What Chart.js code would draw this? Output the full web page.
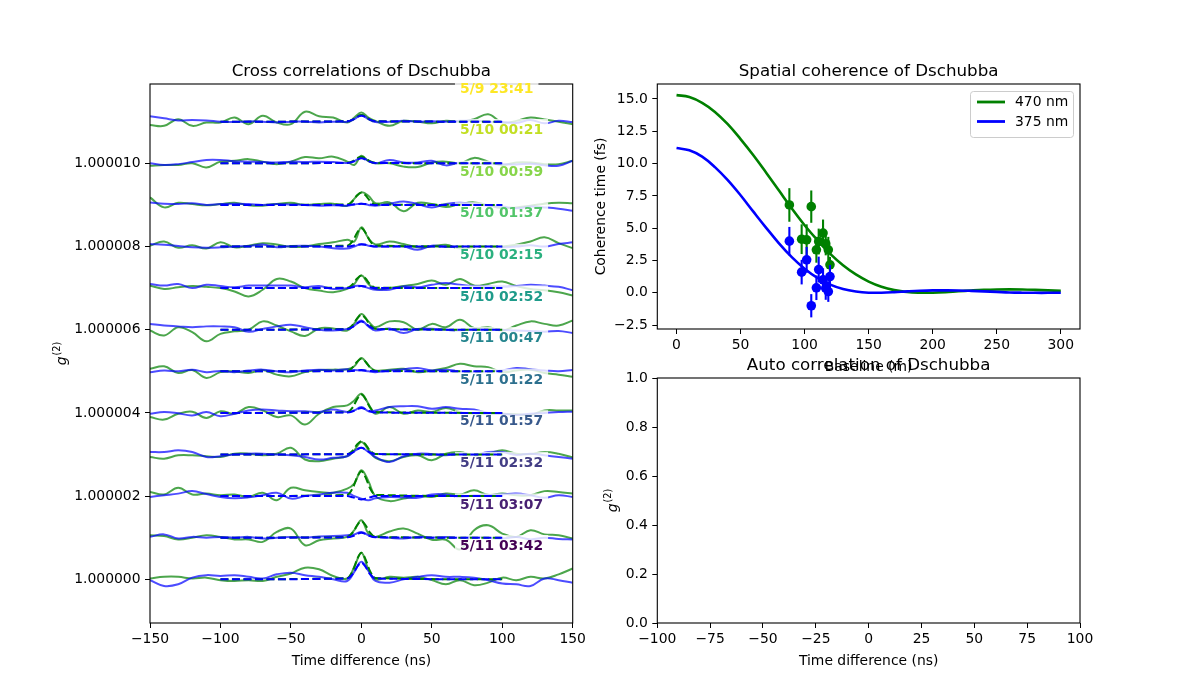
<!DOCTYPE html>
<html>
<head>
<meta charset="utf-8">
<script src="https://cdn.jsdelivr.net/npm/chart.js@4"></script>
<style>
  html, body { margin: 0; padding: 0; background: #fff; }
  #wrap { position: relative; width: 1200px; height: 700px; }
  canvas { position: absolute; left: 0; top: 0; }
</style>
</head>
<body>
<div id="wrap">
  <canvas id="cross" width="1200" height="700"></canvas>
  <canvas id="spatial" width="1200" height="700"></canvas>
  <canvas id="auto" width="1200" height="700"></canvas>
</div>
<script>
// ---------- cross correlations (left) ----------
// time axis of the measured traces (ns)
const timeGrid = [-150, -140, -130, -120, -110, -100, -90, -80, -70, -60, -50, -40, -30, -20, -10, -5, 0, 5, 10,
  20, 30, 40, 50, 60, 70, 80, 90, 100, 110, 120, 130, 140, 150];
// time axis of the fitted curves (ns)
const fitGrid = [-100, -10, -6, -3, 0, 3, 6, 10, 100];

// one entry per trace, bottom trace first; deviations from each trace's baseline in units of 1e-7
const dates = ["5/11 03:42", "5/11 03:07", "5/11 02:32", "5/11 01:57", "5/11 01:22", "5/11 00:47",
  "5/10 02:52", "5/10 02:15", "5/10 01:37", "5/10 00:59", "5/10 00:21", "5/9 23:41"];

const green470 = [
  [0.2,0.6,0.6,0.2,0.4,-0.2,-0.4,-0.2,-0.4,0.6,1.4,2.8,2.4,0.8,0.2,3.0,6.4,2.4,0,0.6,0.4,0.6,-0.2,-1.2,-0.2,-1.4,-0.8,0.4,-0.2,0.6,0.2,1.2,2.6],
  [0.6,0.4,-0.4,0,0.6,0.2,-0.4,-0.4,-1.0,1.4,2.2,-1.8,-0.6,-0.2,0.2,1.8,4.2,1.0,0.2,1.5,2.2,1.0,-0.5,-0.5,-2.8,1.8,3.0,1.0,0.2,1.8,0.8,0.6,-0.2],
  [1.0,0.4,2.0,0.4,0.6,0.2,0.4,-0.2,0.8,-1.0,2.0,1.4,1.0,0.8,1.8,3.0,6.2,3.6,0,-1.2,-0.6,0,-0.2,0.6,0.4,1.4,0.3,0.6,0.2,0.2,1.2,1.0,0.6],
  [-0.6,-1.0,-0.2,-0.2,-0.4,-0.6,0.2,0.2,-0.2,0.2,1.6,-1.2,-1.6,-1.0,-0.4,1.0,3.0,1.2,-0.8,-1.6,-0.6,-0.2,-1.4,0.2,0.6,-0.2,0.2,1.0,0.2,0.1,0.6,0.2,-0.7],
  [-1.0,-1.6,-0.2,0.3,-1.2,0.4,-0.2,1.4,0.6,-1.0,-0.6,-2.8,-0.2,1.4,1.8,3.0,4.6,2.2,-0.2,1.4,-0.2,0.6,0.2,1.2,0.2,-0.2,-0.2,-0.2,-0.3,-0.5,0.6,0.6,0.6],
  [0.6,1.2,-0.4,0.3,-1.6,-0.2,0,-0.4,0.3,-0.8,-1.2,-0.2,0.3,0.4,0.5,1.2,3.2,1.4,0.2,0.4,0.6,-0.2,0.2,0.8,1.8,1.2,1.0,-0.2,0.2,0.4,-0.4,-0.8,-1.3],
  [-0.2,-1.4,0.6,-0.6,-2.8,-1.0,-0.4,0,2.0,1.0,-0.4,-1.5,0.3,0.3,-0.2,1.5,3.8,2.0,0.6,2.0,1.8,0,1.4,0.6,2.4,0.4,0.6,-0.2,1.0,2.0,1.4,1.0,2.2],
  [0.6,-0.2,0.2,0.5,0.3,0,-0.8,-2.0,-0.4,2.2,1.6,0,-0.6,-1.0,-0.2,1.0,3.0,1.0,-0.2,0,0.5,1.0,1.8,0.8,2.2,0.6,1.0,1.6,0.5,-0.2,-0.5,-1.0,-1.8],
  [0.2,1.2,-0.3,0.3,-0.5,1.0,-0.2,0.2,0.8,0.5,-0.1,0,0.6,1.0,1.6,1.2,4.6,2.0,0.5,1.2,0.6,-0.2,0,0.4,-0.5,-0.2,0.1,0,0.4,1.2,2.2,0.8,-0.4],
  [1.8,-0.6,0.5,0.2,-0.1,0.2,0.5,-0.1,-0.2,0.2,0.5,0,0.2,0.3,-0.2,1.5,3.0,2.2,0.4,0.6,-1.5,0.5,0.2,-0.5,0.2,0.6,-0.1,-0.8,-0.6,-0.2,0.3,0.5,0.4],
  [-0.6,-0.4,-0.4,0,-1.0,0.4,0.6,1.0,0.4,-0.2,0.4,1.5,1.2,1.6,0.4,-0.4,1.8,0.5,0,0,-0.8,-0.9,0.2,0.4,0,1.3,0.4,-0.4,0.2,0.2,-0.2,-0.2,0.6],
  [-0.8,-1.0,0.6,-1.0,-0.2,-0.2,1.0,-0.6,1.4,-0.2,-0.6,2.4,1.3,1.0,-0.2,1.0,2.2,1.0,0.2,-1.0,0.2,0,-0.4,0.2,0,0.6,1.8,-0.2,0.2,1.0,0.5,0,-0.6]
];

const blue375 = [
  [-0.2,-1.6,-1.2,0.4,1.0,0.8,1.0,0.6,0.2,1.2,1.6,1.0,0.6,0,-0.4,1.8,4.2,2.0,-0.4,-0.8,0,0.6,1.0,0.6,0.6,0.4,-0.2,-1.0,-1.2,-1.6,0.2,-0.2,-0.8],
  [0.2,0.8,-0.2,0.2,0,0.2,0,0.2,-0.2,0,0.2,0,0.3,0.4,0.6,0.8,1.4,0.6,0.2,0,-0.2,0.2,0,0.2,0,0.2,0,-0.2,0.2,-0.4,0,-0.3,-0.4],
  [-0.2,0.2,0.6,1.2,0.5,-0.2,-0.5,-0.3,0.2,0.8,-0.6,0,0.4,0.8,0.8,0,-0.6,-1.0,-0.5,-0.2,-0.3,-0.4,0.4,0.4,-0.2,0.2,0.2,0.4,0.6,0.2,-0.4,0.2,-0.2],
  [0.6,0.6,1.0,0.6,-0.6,-0.4,0,0.2,0.2,0,-0.2,-0.6,-1.2,-0.8,-0.4,0.8,1.6,0.6,-0.6,-1.8,-0.4,0.2,0.1,-0.2,0.2,-0.1,0.6,0.6,-0.1,0.2,-0.2,-0.6,-1.0],
  [-0.2,0.2,-0.1,-0.6,0.2,-0.8,-0.2,0.6,0.8,0.6,0.4,0.4,0.2,0.8,0.2,0.6,1.4,0.4,0.6,1.4,1.6,1.6,1.0,1.4,1.0,0.8,0,-0.2,-0.5,-0.2,0,0.2,0.3],
  [-0.2,0.2,0,0.4,-0.2,0.1,-0.2,0.2,0.4,0,-0.2,0.2,0.4,0.2,0.5,0.3,0.2,0,-0.2,0.2,0.5,0.8,0.2,0.4,0,-0.2,0,0.2,0.8,0.5,0.2,0,0.3],
  [1.4,1.0,0.8,0.6,0.8,0.8,0.6,-0.5,0.2,0.8,1.2,0.6,0,-0.2,0.2,1.0,2.2,0.8,-0.2,0.3,-0.8,0.2,0.2,0,-0.2,0.2,0,0,-0.2,-0.3,-0.5,-0.3,-0.8],
  [1.0,0.6,1.0,0,0.8,0.5,0.2,0.6,0.6,0.6,0.6,0.2,0.5,-0.2,0,0.5,0.5,0,-0.4,-0.4,0.4,0.2,0.8,1.2,0.8,0.5,0.4,0.3,0.5,0.8,0.6,0.3,-0.5],
  [0.6,0.4,0.1,-0.2,-0.3,-0.2,0,0.1,0.5,-0.2,0.1,0.2,0,-0.4,-0.5,0,0.6,0.2,0,0,0,-0.8,0.2,-0.1,0,0.2,0,-0.2,0,0.3,0,0.6,1.0],
  [0.6,0.3,0.2,0.4,0,0.2,0.3,0.2,0,0.2,0.1,0,-0.2,-0.1,-0.2,0.1,0.3,0,-0.2,0.3,0.8,0.2,-0.6,0.2,0.5,0.2,-0.2,-0.4,-0.8,-0.4,-0.6,-0.9,-1.4],
  [0,-0.4,-0.2,0.3,0.8,0.8,0.5,0.4,0.3,0.2,0.4,0.3,0.4,0.3,0.1,0.5,1.4,0.6,0,0.8,0.2,0.2,0.6,-0.5,0.2,-0.2,-0.1,-0.2,-0.3,-0.1,-0.5,-0.6,0.6],
  [1.3,0.8,0.3,0.4,0.3,0,-0.1,0.1,0,-0.2,0,0,-0.2,0,0,0.6,1.6,0.6,-0.1,0,0.2,0,0.1,0,0.2,0.3,0,-0.1,-0.3,0.4,-0.4,0.2,-0.1]
];

const greenFit = [
  [0,0.3,2.1,4.8,6.4,4.8,2.1,0.3,0],
  [0,0.2,1.3,3.0,4.0,3.0,1.3,0.2,0],
  [0,0.3,2.0,4.5,6.0,4.5,2.0,0.3,0],
  [0,0.1,1.0,2.4,3.2,2.4,1.0,0.1,0],
  [0,0.2,1.4,3.3,4.4,3.3,1.4,0.2,0],
  [0,0.1,1.0,2.3,3.0,2.3,1.0,0.1,0],
  [0,0.2,1.2,2.7,3.6,2.7,1.2,0.2,0],
  [0,0.1,1.0,2.3,3.0,2.3,1.0,0.1,0],
  [0,0.2,1.4,3.3,4.4,3.3,1.4,0.2,0],
  [0,0.1,1.0,2.3,3.0,2.3,1.0,0.1,0],
  [0,0.1,0.5,1.2,1.6,1.2,0.5,0.1,0],
  [0,0.1,0.5,1.2,1.6,1.2,0.5,0.1,0]
];

const blueFit = [
  [0,0.2,1.3,3.0,4.0,3.0,1.3,0.2,0],
  [0,0.1,0.4,0.9,1.2,0.9,0.4,0.1,0],
  [0,0,-0.3,-0.6,-0.8,-0.6,-0.3,0,0],
  [0,0.1,0.5,1.2,1.6,1.2,0.5,0.1,0],
  [0,0.1,0.4,0.9,1.2,0.9,0.4,0.1,0],
  [0,0,0.1,0.2,0.3,0.2,0.1,0,0],
  [0,0.1,0.7,1.5,2.0,1.5,0.7,0.1,0],
  [0,0,0.2,0.4,0.5,0.4,0.2,0,0],
  [0,0,0.2,0.4,0.5,0.4,0.2,0,0],
  [0,0,0.1,0.2,0.3,0.2,0.1,0,0],
  [0,0.1,0.4,0.9,1.2,0.9,0.4,0.1,0],
  [0,0.1,0.5,1.1,1.4,1.1,0.5,0.1,0]
];

const crossTicksX = [-150, -100, -50, 0, 50, 100, 150];
const crossTicksY = [1.000000, 1.000002, 1.000004, 1.000006, 1.000008, 1.000010];

// ---------- spatial coherence (top right) ----------
const baselineGrid = [0,10,20,30,40,50,60,70,80,90,100,110,120,130,140,150,160,170,180,190,200,
  210,220,230,240,250,260,270,280,290,300];
const model470 = [15.30,15.15,14.70,14.00,13.05,11.90,10.65,9.30,7.91,6.52,5.23,4.07,3.01,2.13,1.42,0.87,
  0.47,0.21,0.06,0.01,0.01,0.05,0.12,0.18,0.23,0.26,0.27,0.26,0.23,0.19,0.15];
const model375 = [11.20,11.03,10.54,9.73,8.72,7.55,6.28,5.03,3.83,2.76,1.86,1.15,0.63,0.29,0.10,0.01,
  0.01,0.05,0.11,0.16,0.19,0.19,0.18,0.15,0.11,0.07,0.03,0.01,0.00,0.00,0.01];
const obsBaseline = [88.1, 97.7, 101.6, 105.2, 109.2, 111.0, 114.4, 116.5, 118.5, 119.8];
const obs470 = [6.80, 4.15, 4.10, 6.67, 3.33, 3.97, 4.62, 3.80, 3.33, 2.17];
const err470 = [1.30, 1.15, 1.20, 1.25, 1.00, 1.00, 1.05, 0.90, 1.00, 0.60];
const obs375 = [4.00, 1.60, 2.55, -1.00, 0.39, 1.80, 1.00, 0.36, 0.10, 1.26];
const err375 = [1.10, 0.95, 1.00, 0.90, 0.95, 1.00, 0.90, 0.90, 0.80, 0.90];
const spatialTicksX = [0, 50, 100, 150, 200, 250, 300];
const spatialTicksY = [-2.5, 0, 2.5, 5, 7.5, 10, 12.5, 15];

// ---------- auto correlation (bottom right, empty) ----------
const autoTicksX = [-100, -75, -50, -25, 0, 25, 50, 75, 100];
const autoTicksY = [0, 0.2, 0.4, 0.6, 0.8, 1.0];

const viridis12 = ['#440154', '#482173', '#433e85', '#38598c', '#2d708e', '#25858e',
  '#1e9b8a', '#2ab07f', '#52c569', '#86d549', '#c2df23', '#fde725'];

Chart.defaults.font.family = "'DejaVu Sans', sans-serif";
Chart.defaults.font.size = 13.9;
Chart.defaults.color = '#000';
Chart.defaults.animation = false;

const FONT = "'DejaVu Sans', sans-serif";
const minus = s => String(s).replace('-', '\u2212');

function axis(min, max, tickVals, fmt, size, horizontal) {
  return {
    type: 'linear', min: min, max: max,
    grid: { display: true, drawOnChartArea: false, drawTicks: true, tickLength: 5, color: '#000', lineWidth: 1 },
    border: { display: false },
    ticks: { color: '#000', font: { size: 13.9 }, padding: horizontal ? 3 : 4.5, maxRotation: 0, autoSkip: false, callback: fmt },
    afterBuildTicks: s => { s.ticks = tickVals.map(v => ({ value: v })); },
    afterFit: s => {
      if (horizontal) s.height = size; else s.width = size;
      s.paddingLeft = 0; s.paddingRight = 0; s.paddingTop = 0; s.paddingBottom = 0;
    }
  };
}

function frame(chart) {
  const { ctx, chartArea: a } = chart;
  ctx.save();
  ctx.strokeStyle = '#000';
  ctx.lineWidth = 1.1;
  ctx.strokeRect(a.left, a.top, a.right - a.left, a.bottom - a.top);
  ctx.restore();
}

function titles(chart, title, xlabel) {
  const { ctx, chartArea: a } = chart;
  const cx = (a.left + a.right) / 2;
  ctx.save();
  ctx.fillStyle = '#000';
  ctx.textAlign = 'center';
  ctx.textBaseline = 'alphabetic';
  ctx.font = '16.7px ' + FONT;
  ctx.fillText(title, cx, a.top - 8.3);
  ctx.font = '13.9px ' + FONT;
  ctx.fillText(xlabel, cx, a.bottom + 41.5);
  ctx.restore();
}

function g2Label(ctx, x, cy) {
  ctx.save();
  ctx.translate(x, cy);
  ctx.rotate(-Math.PI / 2);
  ctx.fillStyle = '#000';
  ctx.textBaseline = 'alphabetic';
  ctx.textAlign = 'left';
  ctx.font = 'italic 13.9px ' + FONT;
  const w1 = ctx.measureText('g').width;
  ctx.font = '9.7px ' + FONT;
  const w2 = ctx.measureText('(2)').width;
  const start = -(w1 + w2 + 1) / 2;
  ctx.font = 'italic 13.9px ' + FONT;
  ctx.fillText('g', start, 0);
  ctx.font = '9.7px ' + FONT;
  ctx.fillText('(2)', start + w1 + 1, -6);
  ctx.restore();
}

// ---------- build the left chart ----------
function pts(xs, devs, k) {
  return xs.map((x, i) => ({ x: x, y: 1 + k * 1e-6 + devs[i] * 1e-7 }));
}
function trace(data, color, dash, fit) {
  const ds = { data: data, borderColor: color, borderWidth: 2, pointRadius: 0, fill: false, borderDash: dash, isFit: fit };
  if (fit) ds.cubicInterpolationMode = 'monotone'; else ds.tension = 0.4;
  return ds;
}

const paintOrder = [];
for (let k = 0; k < dates.length; k++) {
  paintOrder.push(trace(pts(timeGrid, green470[k], k), 'rgba(0,128,0,0.7)', [], false));
  paintOrder.push(trace(pts(timeGrid, blue375[k], k), 'rgba(0,0,255,0.7)', [], false));
}
for (let k = 0; k < dates.length; k++) {
  paintOrder.push(trace(pts(fitGrid, greenFit[k], k), '#008000', [8, 3.5], true));
  paintOrder.push(trace(pts(fitGrid, blueFit[k], k), '#0000ff', [8, 3.5], true));
}
// Chart.js paints the last dataset first
const crossDatasets = paintOrder.slice().reverse();

const crossDecor = {
  id: 'crossDecor',
  beforeDatasetsDraw(chart) { chart.$labelsDone = false; },
  beforeDatasetDraw(chart, args) {
    const ds = chart.data.datasets[args.index];
    if (!ds.isFit || chart.$labelsDone) return;
    chart.$labelsDone = true;
    frame(chart);
    const { ctx, scales: { x, y } } = chart;
    ctx.save();
    ctx.font = 'bold 13.9px ' + FONT;
    ctx.textBaseline = 'middle';
    ctx.textAlign = 'left';
    dates.forEach((d, k) => {
      const px = x.getPixelForValue(70);
      const py = y.getPixelForValue(1 + (k + 0.8) * 1e-6);
      const w = ctx.measureText(d).width;
      ctx.fillStyle = 'rgba(255,255,255,0.8)';
      ctx.fillRect(px - 5, py - 11, w + 10, 21);
      ctx.fillStyle = viridis12[k];
      ctx.fillText(d, px, py + 0.5);
    });
    ctx.restore();
  },
  afterDraw(chart) {
    const a = chart.chartArea;
    titles(chart, 'Cross correlations of Dschubba', 'Time difference (ns)');
    g2Label(chart.ctx, 66, (a.top + a.bottom) / 2);
  }
};

new Chart(document.getElementById('cross'), {
  type: 'line',
  data: { datasets: crossDatasets },
  options: {
    responsive: false, devicePixelRatio: 1,
    layout: { padding: { left: 50, right: 627.3, top: 84, bottom: 37 } },
    scales: {
      x: axis(-150, 150, crossTicksX, v => minus(v), 40, true),
      y: axis(1 - 1.05e-6, 1 + 11.906e-6, crossTicksY, v => Number(v).toFixed(6), 100, false)
    },
    plugins: { legend: { display: false }, tooltip: { enabled: false } }
  },
  plugins: [crossDecor]
});

// ---------- build the top-right chart ----------
const xy = (xs, ys) => xs.map((x, i) => ({ x: x, y: ys[i] }));

const spatialDecor = {
  id: 'spatialDecor',
  afterDatasetDraw(chart, args) {
    const ds = chart.data.datasets[args.index];
    if (!ds.errors) return;
    const { ctx, scales: { x, y } } = chart;
    ctx.save();
    ctx.strokeStyle = ds.pointBackgroundColor;
    ctx.lineWidth = 2.1;
    ds.data.forEach((p, i) => {
      const px = x.getPixelForValue(p.x);
      ctx.beginPath();
      ctx.moveTo(px, y.getPixelForValue(p.y - ds.errors[i]));
      ctx.lineTo(px, y.getPixelForValue(p.y + ds.errors[i]));
      ctx.stroke();
    });
    ctx.restore();
  },
  afterDraw(chart) {
    const { ctx, chartArea: a } = chart;
    frame(chart);
    titles(chart, 'Spatial coherence of Dschubba', 'Baseline (m)');
    ctx.save();
    ctx.translate(605, (a.top + a.bottom) / 2);
    ctx.rotate(-Math.PI / 2);
    ctx.font = '13.9px ' + FONT;
    ctx.fillStyle = '#000';
    ctx.textAlign = 'center';
    ctx.textBaseline = 'alphabetic';
    ctx.fillText('Coherence time (fs)', 0, 0);
    ctx.restore();
    // legend, upper right
    const bw = 103, bh = 46;
    const bx = a.right - 7 - bw, by = a.top + 7;
    ctx.save();
    ctx.beginPath();
    ctx.roundRect(bx + 0.5, by + 0.5, bw, bh, 3);
    ctx.fillStyle = 'rgba(255,255,255,0.8)';
    ctx.fill();
    ctx.strokeStyle = '#cccccc';
    ctx.lineWidth = 1;
    ctx.stroke();
    const entries = [['470 nm', '#008000'], ['375 nm', '#0000ff']];
    ctx.font = '13.9px ' + FONT;
    ctx.textBaseline = 'middle';
    ctx.textAlign = 'left';
    entries.forEach((e, i) => {
      const ly = by + 11 + i * 19.5;
      ctx.strokeStyle = e[1];
      ctx.lineWidth = 2.8;
      ctx.beginPath();
      ctx.moveTo(bx + 7, ly);
      ctx.lineTo(bx + 35, ly);
      ctx.stroke();
      ctx.fillStyle = '#000';
      ctx.fillText(e[0], bx + 45, ly + 0.5);
    });
    ctx.restore();
  }
};

function curve(data, color) {
  return { data: data, borderColor: color, borderWidth: 2.6, pointRadius: 0, fill: false, tension: 0.4 };
}
function points(data, color, errs) {
  return {
    data: data, showLine: false, borderWidth: 0, pointRadius: 4.8, pointBorderWidth: 0,
    pointBackgroundColor: color, borderColor: color, errors: errs
  };
}

new Chart(document.getElementById('spatial'), {
  type: 'line',
  data: {
    datasets: [
      points(xy(obsBaseline, obs375), '#0000ff', err375),
      points(xy(obsBaseline, obs470), '#008000', err470),
      curve(xy(baselineGrid, model375), '#0000ff'),
      curve(xy(baselineGrid, model470), '#008000')
    ]
  },
  options: {
    responsive: false, devicePixelRatio: 1,
    layout: { padding: { left: 597.3, right: 120, top: 84, bottom: 341 } },
    scales: {
      x: axis(-15, 315, spatialTicksX, v => minus(v), 30, true),
      y: axis(-2.8, 16.16, spatialTicksY, v => minus(Number(v).toFixed(1)), 60, false)
    },
    plugins: { legend: { display: false }, tooltip: { enabled: false } }
  },
  plugins: [spatialDecor]
});

// ---------- build the bottom-right chart ----------
const autoDecor = {
  id: 'autoDecor',
  afterDraw(chart) {
    const a = chart.chartArea;
    frame(chart);
    titles(chart, 'Auto correlation of Dschubba', 'Time difference (ns)');
    g2Label(chart.ctx, 617, (a.top + a.bottom) / 2);
  }
};

new Chart(document.getElementById('auto'), {
  type: 'scatter',
  data: { datasets: [] },
  options: {
    responsive: false, devicePixelRatio: 1,
    layout: { padding: { left: 597.3, right: 120, top: 378, bottom: 37 } },
    scales: {
      x: axis(-100, 100, autoTicksX, v => minus(v), 40, true),
      y: axis(0, 1, autoTicksY, v => Number(v).toFixed(1), 60, false)
    },
    plugins: { legend: { display: false }, tooltip: { enabled: false } }
  },
  plugins: [autoDecor]
});
</script>
</body>
</html>
